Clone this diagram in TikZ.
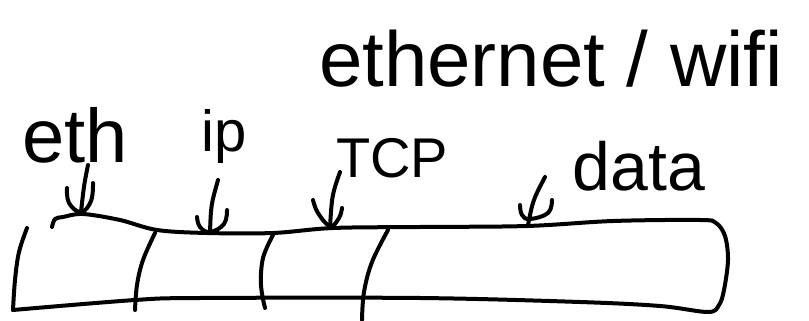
\documentclass[tikz,border=0pt]{standalone}
\usepackage{fontspec}
\setmainfont{Liberation Sans}
\begin{document}
\begin{tikzpicture}[x=1pt,y=-1pt,
  ink/.style={line width=4pt,line cap=round,line join=round,black},
  lbl/.style={inner sep=0pt,anchor=base,text=black}]
\useasboundingbox (0,0) rectangle (809,321);
% labels
\node[lbl,font=\fontsize{78}{80}\selectfont] (title) at (551,86) {ethernet / wifi};
\node[lbl,font=\fontsize{76}{80}\selectfont] (eth) at (75,162) {eth};
\node[lbl,font=\fontsize{58}{60}\selectfont] (ip) at (224,151) {ip};
\node[lbl,font=\fontsize{56}{60}\selectfont] (tcp) at (392,177) {TCP};
\node[lbl,font=\fontsize{68}{70}\selectfont] (data) at (639,190) {data};
% frame of the packet
\draw[ink] plot[smooth,tension=0.55] coordinates {(52,227) (55,219) (63,217) (83,214) (120,220) (157,230) (207,233) (273,233) (333,228) (420,227) (527,226) (613,221) (700,220) (716,223) (725,236) (728,260) (724,290) (719,305) (708,312) (660,306) (580,302) (420,298) (200,298) (135,300) (13,310)};
\draw[ink] plot[smooth,tension=0.6] coordinates {(27,228) (19,252) (15,280) (13,310)};
% dividers
\draw[ink] plot[smooth,tension=0.6] coordinates {(155,233) (143,260) (137,285) (135,310)};
\draw[ink] plot[smooth,tension=0.6] coordinates {(273,235) (263,258) (261,285) (265,308)};
\draw[ink] plot[smooth,tension=0.6] coordinates {(388,230) (372,262) (364,292) (362,320)};
% arrows
\coordinate (s1) at (88,165); \coordinate (t1) at (81,212);
\coordinate (s2) at (218,180); \coordinate (t2) at (210,232);
\coordinate (s3) at (340,172); \coordinate (t3) at (330,227);
\coordinate (s4) at (545,177); \coordinate (t4) at (528,225);
\draw[ink] (s1) .. controls (84,185) .. (t1);
\draw[ink] plot[smooth,tension=0.7] coordinates {(67,188) (69,203) (81,212) (91,201) (93,183)};
\draw[ink] (s2) .. controls (211,205) .. (t2);
\draw[ink] plot[smooth,tension=0.7] coordinates {(197,217) (200,227) (210,232) (224,224) (227,210)};
\draw[ink] (s3) .. controls (332,195) .. (t3);
\draw[ink] plot[smooth,tension=0.7] coordinates {(313,200) (318,213) (330,226) (339,218) (342,208)};
\draw[ink] (s4) .. controls (533,200) .. (t4);
\draw[ink] plot[smooth,tension=0.7] coordinates {(520,205) (522,215) (530,219) (548,213) (552,200)};
\end{tikzpicture}
\end{document}
